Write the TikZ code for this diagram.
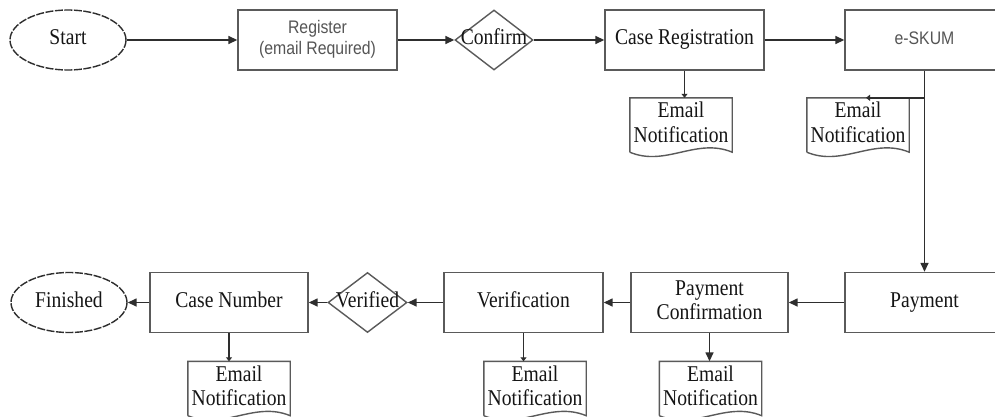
\documentclass[tikz,border=0pt]{standalone}
\usepackage{fontspec}
\setmainfont{Liberation Serif}
\newfontfamily\arialf{Liberation Sans}
\usetikzlibrary{arrows.meta,shapes.geometric,calc}
\newcommand\vs[1]{\scalebox{1}[1.15]{\begin{tabular}{@{}c@{}}#1\end{tabular}}}
\newcommand\serifsz{\fontsize{19.6}{21.7}\selectfont}
\newcommand\sanssz{\fontsize{15.8}{18.3}\selectfont\arialf}
\definecolor{boxc}{HTML}{5A5A5A}
\definecolor{conc}{HTML}{2E2E2E}
\definecolor{txtc}{HTML}{151515}
\definecolor{sanc}{HTML}{555555}
\tikzset{
  box/.style={draw=boxc, line width=1.4pt, rectangle, minimum width=159pt, minimum height=60pt, inner sep=0pt, font=\serifsz, text=txtc},
  sbox/.style={box, font=\sanssz, text=sanc},
  dia/.style={draw=boxc, line width=1.4pt, diamond, minimum width=78pt, minimum height=60pt, inner sep=0pt},
  dtext/.style={inner sep=0pt, font=\serifsz, text=txtc},
  term/.style={draw=conc, line width=1.4pt, dash pattern=on 8pt off 1.5pt, ellipse, minimum width=116pt, minimum height=60pt, inner sep=0pt, font=\serifsz, text=txtc},
  docn/.style={minimum width=102pt, minimum height=54pt, inner sep=0pt, font=\serifsz, text=txtc},
  docline/.style={draw=boxc, line width=1.4pt},
  conn/.style={draw=conc, line width=1.5pt, -{Triangle[length=9pt,width=8pt]}},
  sconn/.style={draw=conc, line width=1.5pt, -{Triangle[length=4pt,width=6pt]}},
}
\newcommand\docoutline[1]{\draw[docline] (#1.south west) -- (#1.north west) -- (#1.north east) -- (#1.south east) .. controls ([xshift=-36pt,yshift=15pt]#1.south east) and ([xshift=36pt,yshift=-15pt]#1.south west) .. (#1.south west);}
\begin{document}
\begin{tikzpicture}[x=1pt,y=-1pt]
\clip (0,0) rectangle (995,416);
\fill[white] (0,0) rectangle (995,416);
% top row
\node[term] (start) at (68,40) {\vs{Start}};
\node[sbox] (register) at (317.5,40) {\vs{Register\\(email Required)}};
\node[dia] (confirm) at (494,40) {};
\node[dtext] (confirmt) at (confirm) {\vs{Confirm}};
\node[box] (casereg) at (684.5,40) {\vs{Case Registration}};
\node[sbox] (eskum) at (924.5,40) {\vs{e-SKUM}};
\node[docn] (doc1) at (681,125) {\vs{Email\\Notification}};
\node[docn] (doc2) at (858,125) {\vs{Email\\Notification}};
\docoutline{doc1}
\docoutline{doc2}
% bottom row
\node[box] (payment) at (924.5,302.5) {\vs{Payment}};
\node[box, minimum width=157pt] (payconf) at (709.5,302.5) {\vs{Payment\\Confirmation}};
\node[box] (verification) at (523.5,302.5) {\vs{Verification}};
\node[dia, minimum width=79pt] (verified) at (367.5,302.5) {};
\node[dtext] (verifiedt) at (verified) {\vs{Verified}};
\node[box, minimum width=158pt] (casenum) at (229,302.5) {\vs{Case Number}};
\node[term] (finished) at (69,302.5) {\vs{Finished}};
\node[docn] (doc3) at (239,388.5) {\vs{Email\\Notification}};
\node[docn] (doc4) at (535,388.5) {\vs{Email\\Notification}};
\node[docn] (doc5) at (710.5,388.5) {\vs{Email\\Notification}};
\docoutline{doc3}
\docoutline{doc4}
\docoutline{doc5}
% connectors top
\draw[conn] (start) -- (register);
\draw[conn] (register) -- (confirm);
\draw[conn] (confirm) -- (casereg);
\draw[conn] (casereg) -- (eskum);
\draw[sconn] (casereg.south) -- (casereg.south |- doc1.north);
\draw[conn] (eskum) -- (payment);
\coordinate (br) at (eskum.south |- doc2.north);
\coordinate (doc2in) at ([xshift=8pt]doc2.north);
\draw[sconn] (br) -- (doc2in);
% connectors bottom
\draw[conn] (payment) -- (payconf);
\draw[conn] (payconf) -- (verification);
\draw[conn] (verification) -- (verified);
\draw[conn] (verified) -- (casenum);
\draw[conn] (casenum) -- (finished);
\draw[sconn] (casenum.south) -- (casenum.south |- doc3.north);
\draw[sconn] (verification.south) -- (verification.south |- doc4.north);
\draw[conn] (payconf.south) -- (payconf.south |- doc5.north);
\end{tikzpicture}
\end{document}
